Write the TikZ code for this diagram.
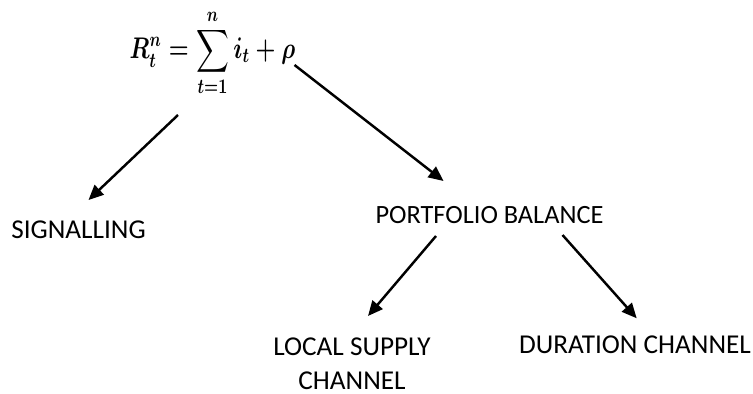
\documentclass[tikz,border=0pt]{standalone}
\usepackage{amsmath}
\usepackage{fontspec}
\setmainfont{Carlito}
\usetikzlibrary{arrows.meta}

\newcommand{\ratesum}{{\boldmath$\displaystyle R_t^n=\sum_{t=1}^{n} i_t+\rho$}}

\begin{document}
\begin{tikzpicture}[x=0.02cm,y=-0.02cm,
                    line width=1.4pt,
                    arr/.style={-{Triangle[length=8.5pt,width=7.5pt]}},
                    txt/.style={font=\fontsize{15.5}{19.4}\selectfont,align=center,inner sep=0pt},
                    formula/.style={font=\fontsize{14.5}{20}\selectfont,inner sep=0pt,transform shape}]
  \useasboundingbox (0,0) rectangle (753,394);

  % formula, taller and narrower like Cambria Math
  \begin{scope}[shift={(212.5,52.5)},xscale=0.9,yscale=1.18]
    \node[formula] (rate) at (0,0) {\ratesum};
  \end{scope}
  \node[txt] (signal) at (78.5,230) {SIGNALLING};
  \node[txt,font=\fontsize{15}{19.4}\selectfont] (port) at (489.5,215) {PORTFOLIO BALANCE};
  \node[txt] (local) at (352,363.5) {LOCAL SUPPLY\\CHANNEL};
  \node[txt] (dur) at (635,345) {DURATION CHANNEL};

  \draw[arr] ([shift={(-34.5,62.5)}]rate.center) -- ([shift={(10,-30)}]signal.center);
  \draw[arr] ([shift={(82,12.5)}]rate.center) -- ([shift={(-46,-34)}]port.center);
  \draw[arr] ([shift={(-53.5,21)}]port.center) -- ([shift={(16,-47.5)}]local.center);
  \draw[arr] ([shift={(73,20)}]port.center) -- ([shift={(1.7,-26.7)}]dur.center);
\end{tikzpicture}
\end{document}
